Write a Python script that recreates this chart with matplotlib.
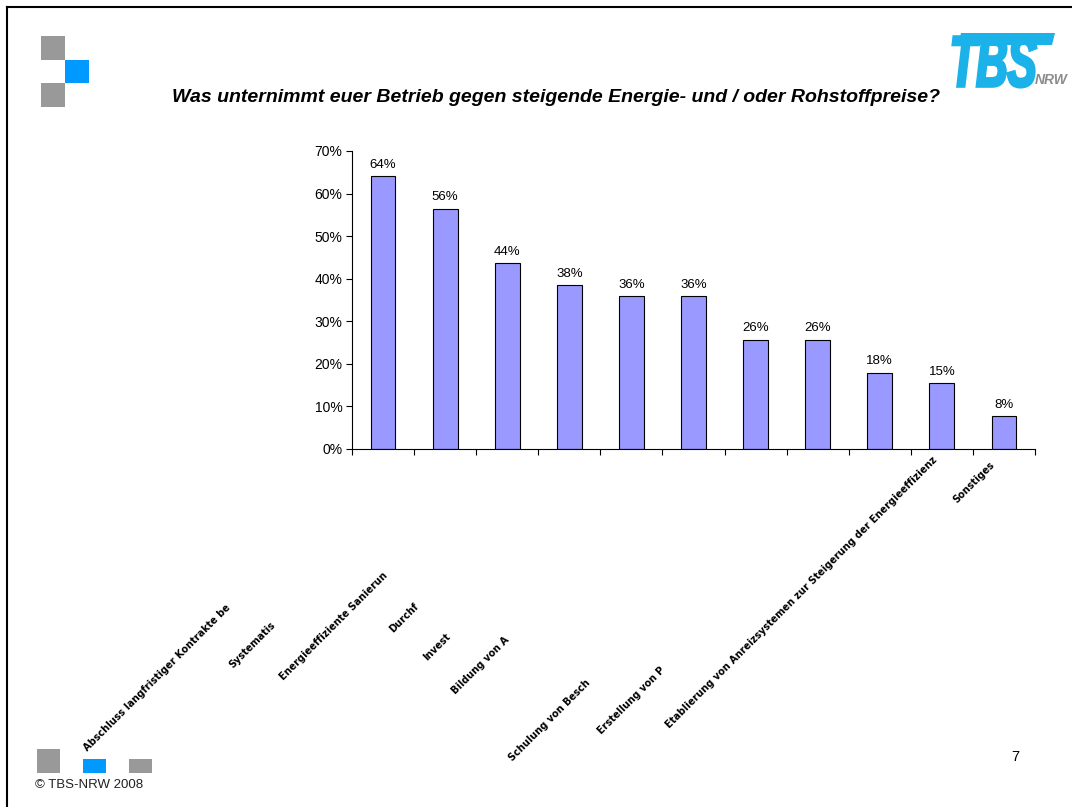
import numpy as np
import matplotlib
matplotlib.use("Agg")
import matplotlib.pyplot as plt
from matplotlib.lines import Line2D
from matplotlib.patches import Rectangle, PathPatch, Polygon
from matplotlib.textpath import TextPath
from matplotlib.font_manager import FontProperties
from matplotlib.transforms import Affine2D, ScaledTranslation
from matplotlib.ticker import FuncFormatter

# survey answers (share of firms, %), labels as they appear (cut off) in the slide
labels = ["Abschluss langfristiger Kontrakte be", "Systematis", "Energieeffiziente Sanierun",
          "Durchf", "Invest", "Bildung von A", "", "Schulung von Besch",
          "Erstellung von P",
          "Etablierung von Anreizsystemen zur Steigerung der Energieeffizienz",
          "Sonstiges"]
values = [64.1, 56.4, 43.6, 38.5, 35.9, 35.9, 25.6, 25.6, 17.9, 15.4, 7.7]

title = "Was unternimmt euer Betrieb gegen steigende Energie- und / oder Rohstoffpreise?"

# how far each (truncated) label is pushed down-left, in pixels
label_shift = [295, 212, 224, 176, 204, 238, 0, 305, 278, 272, 47]

W, H = 1072, 807
fig = plt.figure(figsize=(W / 100, H / 100), dpi=100)
fig.patch.set_facecolor("white")

def fx(px):
    return px / W

def fy(py):
    return 1 - py / H

ax = fig.add_axes([fx(352), fy(449), fx(1035) - fx(352), fy(151) - fy(449)])
x = np.arange(len(values))
ax.bar(x, values, width=0.4, color="#9999FF", edgecolor="black", linewidth=0.8)
for xi, v in zip(x, values):
    ax.annotate(f"{v:.0f}%", (xi, v), xytext=(0, 4), textcoords="offset points",
                ha="center", va="bottom", fontsize=9.5, family="Liberation Sans")

ax.set_xlim(-0.5, len(values) - 0.5)
ax.set_ylim(0, 70)
ax.set_yticks(np.arange(0, 71, 10))
ax.yaxis.set_major_formatter(FuncFormatter(lambda v, p: f"{v:.0f}%"))
for t in ax.get_yticklabels():
    t.set_family("Liberation Sans")
    t.set_fontsize(10)
ax.tick_params(axis="y", direction="out", length=4, width=0.8, pad=3)

ax.set_xticks(np.arange(-0.5, len(values), 1))
ax.set_xticklabels([])
ax.tick_params(axis="x", which="major", direction="out", length=4, width=0.8)
ax.set_xticks(x, minor=True)
ax.set_xticklabels(labels, minor=True)
ax.tick_params(axis="x", which="minor", length=0, pad=0)
for lab, d in zip(ax.xaxis.get_minorticklabels(), label_shift):
    lab.set_rotation(45)
    lab.set_rotation_mode("anchor")
    lab.set_ha("left")
    lab.set_va("baseline")
    lab.set_fontsize(7)
    lab.set_fontweight("bold")
    lab.set_family("DejaVu Sans")
    lab.set_transform(lab.get_transform() +
                      ScaledTranslation(-d / 100, -(d + 8) / 100, fig.dpi_scale_trans))

for s in ["top", "right"]:
    ax.spines[s].set_visible(False)
for s in ["left", "bottom"]:
    ax.spines[s].set_linewidth(0.8)

# title
fig.text(fx(172), fy(98), title, ha="left", va="center", fontsize=14,
         family="Liberation Sans", weight="bold", style="italic")

# slide frame
fig.add_artist(Line2D([fx(7), fx(7)], [0, fy(7)], color="black", lw=1.5))
fig.add_artist(Line2D([fx(7), 1], [fy(7), fy(7)], color="black", lw=1.5))

# decorative squares
grey, blue = "#999999", "#0099FF"
def square(x0, y0, x1, y1, c):
    fig.add_artist(Rectangle((fx(x0), fy(y1)), fx(x1) - fx(x0), fy(y0) - fy(y1),
                             facecolor=c, edgecolor="none"))
square(41, 36, 65, 60, grey)
square(65, 60, 89, 83, blue)
square(41, 83, 65, 107, grey)
square(37, 749, 60, 773, grey)
square(83, 759, 106, 773, blue)
square(129, 759, 152, 773, grey)

fig.text(fx(35), fy(785), "\u00a9 TBS-NRW 2008", ha="left", va="center", fontsize=9.5,
         family="Liberation Sans", color="#222222")
fig.text(fx(1015), fy(757), "7", ha="center", va="center", fontsize=10.5,
         family="Liberation Sans")

# TBS logo
cyan = "#1AB2E8"
tp = TextPath((0, 0), "TBS", size=1,
              prop=FontProperties(family="Liberation Sans", weight="bold", style="italic"))
ext = tp.get_extents()
x0, x1, y0, y1 = 953, 1036, 36, 87
tr = (Affine2D().translate(-ext.x0, -ext.y0)
      .scale((x1 - x0) / ext.width / W, (y1 - y0) / ext.height / H)
      .translate(fx(x0), fy(y1)) + fig.transFigure)
fig.add_artist(PathPatch(tp, transform=tr, facecolor=cyan, edgecolor=cyan, lw=2.2))
fig.add_artist(Polygon([(fx(958), fy(45)), (fx(1052), fy(45)), (fx(1055), fy(33)), (fx(961), fy(33))],
                       closed=True, facecolor=cyan, edgecolor="none"))
fig.text(fx(1051), fy(80), "NRW", ha="center", va="center", fontsize=10,
         family="Liberation Sans", weight="bold", style="italic", color="#8C8C8C")

fig.savefig("out.png", dpi=100)
